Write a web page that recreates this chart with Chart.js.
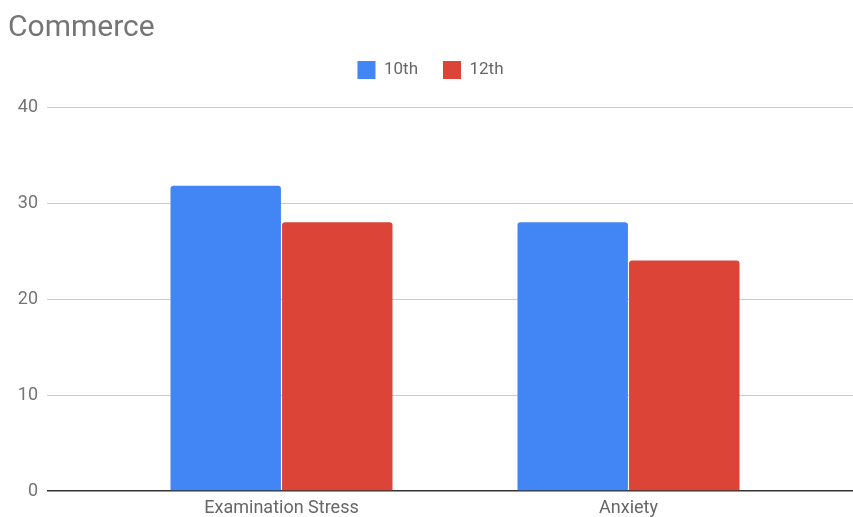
<!DOCTYPE html>
<html>
<head>
<meta charset="utf-8">
<script src="https://cdn.jsdelivr.net/npm/chart.js@4"></script>
<style>
  html, body { margin:0; padding:0; background:#fff; }
  #wrap { width:853px; height:517px; }
</style>
</head>
<body>
<div id="wrap"><canvas id="chart" width="853" height="517"></canvas></div>
<script>
const categories = ['Examination Stress', 'Anxiety'];
const tenth = [31.8, 28];
const twelfth = [28, 24];
const yTicks = [0, 10, 20, 30, 40];

const el = (id) => document.getElementById(id);
const asPoints = (arr) => arr.map((v, i) => ({ x: i, y: v }));

// extra room under the legend, like the original
const legendGap = {
  id: 'legendGap',
  beforeInit(chart){
    const fit = chart.legend.fit;
    chart.legend.fit = function(){ fit.bind(chart.legend)(); this.height += 18; };
  }
};

new Chart(el('chart'), {
  type: 'bar',
  data: {
    datasets: [
      { label: '10th', data: asPoints(tenth), backgroundColor: '#4285f4',
        borderRadius: { topLeft: 3, topRight: 3 }, borderSkipped: 'bottom' },
      { label: '12th', data: asPoints(twelfth), backgroundColor: '#db4437',
        borderRadius: { topLeft: 3, topRight: 3 }, borderSkipped: 'bottom' }
    ]
  },
  plugins: [legendGap],
  options: {
    responsive: false,
    animation: false,
    layout: { padding: { left: 8, right: 0, top: 0, bottom: 0 } },
    categoryPercentage: 0.643,
    barPercentage: 0.99,
    plugins: {
      title: {
        display: true, text: 'Commerce', align: 'start', color: '#757575',
        font: { family: 'Roboto', size: 30, weight: 'normal' },
        padding: { top: 10, bottom: -10 }
      },
      legend: {
        labels: {
          color: '#666', boxWidth: 18, boxHeight: 18, padding: 25,
          font: { family: 'Roboto', size: 17 }
        }
      },
      tooltip: { enabled: false }
    },
    scales: {
      x: {
        type: 'linear', min: -0.6758, max: 1.647, offset: false,
        grid: { display: false, drawTicks: false }, border: { display: false },
        afterBuildTicks: (s) => { s.ticks = categories.map((_, i) => ({ value: i })); },
        afterFit: (s) => { s.height = 26; },
        ticks: {
          autoSkip: false, maxRotation: 0, padding: 8, color: '#666',
          font: { family: 'Roboto', size: 18, lineHeight: 1 },
          callback: (v) => categories[v] ?? ''
        }
      },
      y: {
        min: 0, max: 40,
        afterBuildTicks: (s) => { s.ticks = yTicks.map(v => ({ value: v })); },
        afterFit: (s) => { s.width = 39; },
        border: { display: false },
        grid: {
          drawTicks: false,
          color: (c) => c.tick && c.tick.value === 0 ? '#333' : '#ccc',
          lineWidth: (c) => c.tick && c.tick.value === 0 ? 1.5 : 1
        },
        ticks: { padding: 9, color: '#757575', font: { family: 'Roboto', size: 18 } }
      }
    }
  }
});
</script>
</body>
</html>
